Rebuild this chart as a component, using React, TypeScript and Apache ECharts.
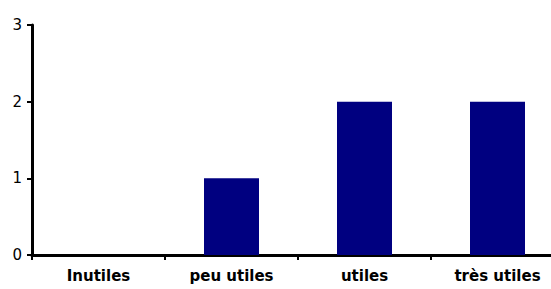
import React, { useEffect, useRef } from "react";
import * as echarts from "echarts";

const categories = ["Inutiles", "peu utiles", "utiles", "très utiles"];
const values = [0, 1, 2, 2];
const yTicks = { min: 0, max: 3, interval: 1 };

export default function App() {
  const ref = useRef<HTMLDivElement>(null);
  useEffect(() => {
    if (!ref.current) return;
    const chart = echarts.init(ref.current, null, { renderer: "svg" });
    chart.setOption({
      animation: false,
      backgroundColor: "#ffffff",
      grid: { left: 32, right: 1, top: 25, bottom: 34, containLabel: false },
      xAxis: {
        type: "category",
        data: categories,
        boundaryGap: true,
        axisLine: { show: true, lineStyle: { color: "#000", width: 3 } },
        axisTick: { show: true, length: 5, lineStyle: { color: "#000", width: 2 } },
        axisLabel: {
          color: "#000",
          fontFamily: "DejaVu Sans",
          fontWeight: "bold",
          fontSize: 15,
          margin: 13,
        },
      },
      yAxis: {
        type: "value",
        min: yTicks.min,
        max: yTicks.max,
        interval: yTicks.interval,
        splitLine: { show: false },
        axisLine: { show: true, lineStyle: { color: "#000", width: 3 } },
        axisTick: { show: true, length: 5, lineStyle: { color: "#000", width: 2 } },
        axisLabel: {
          color: "#000",
          fontFamily: "DejaVu Sans",
          fontSize: 15,
          margin: 10,
        },
      },
      series: [
        {
          type: "bar",
          data: values,
          barWidth: 55,
          itemStyle: { color: "#000080" },
        },
      ],
    });
    return () => chart.dispose();
  }, []);
  return (
    <div
      style={{
        position: "absolute",
        left: 0,
        top: 0,
        width: 551,
        height: 289,
        overflow: "hidden",
        background: "#fff",
      }}
    >
      <div ref={ref} style={{ width: 565, height: 289 }} />
    </div>
  );
}
